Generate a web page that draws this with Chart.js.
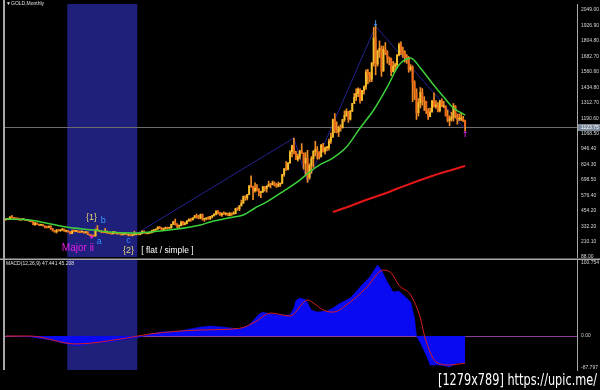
<!DOCTYPE html>
<html>
<head>
<meta charset="utf-8">
<title>GOLD, Monthly</title>
<script src="https://cdn.jsdelivr.net/npm/chart.js@4.4.1/dist/chart.umd.min.js"></script>
<style>
    html, body { margin: 0; padding: 0; background: #000; }
    #wrap { position: relative; width: 600px; height: 390px; background: #000; overflow: hidden; }
    #price-chart { position: absolute; left: 0; top: 0; }
    #macd-chart { position: absolute; left: 0; top: 258px; }
</style>
</head>
<body>
<div id="wrap">
    <canvas id="price-chart" width="600" height="260"></canvas>
    <canvas id="macd-chart" width="600" height="132"></canvas>
</div>
<script>
// --- Data: monthly gold bars, Nov 1995 .. Jul 2015 ---
const firstYear = 1995;
const firstMonth = 11;
const slotCount = 294; // bars + empty space to the right edge
const firstOpen = 383;

const closes = [
    387, 387,
    405, 400, 396, 392, 391, 382, 386, 387, 379, 379, 371, 369,
    345, 358, 348, 340, 345, 334, 326, 325, 332, 311, 296, 290,
    303, 297, 301, 310, 293, 296, 288, 273, 293, 292, 294, 288,
    287, 287, 280, 286, 268, 261, 255, 254, 299, 299, 292, 290,
    283, 293, 278, 275, 272, 288, 276, 278, 273, 264, 270, 273,
    266, 267, 258, 264, 267, 271, 266, 274, 293, 279, 275, 277,
    282, 297, 302, 309, 326, 318, 304, 312, 324, 317, 319, 347,
    368, 348, 334, 337, 364, 346, 354, 375, 388, 384, 398, 416,
    400, 396, 427, 387, 393, 395, 391, 408, 416, 428, 453, 438,
    422, 436, 429, 436, 417, 437, 429, 433, 473, 470, 495, 517,
    569, 556, 583, 654, 643, 614, 633, 624, 599, 604, 646, 632,
    650, 665, 662, 678, 659, 650, 665, 673, 743, 789, 783, 834,
    923, 972, 916, 864, 886, 930, 913, 833, 871, 718, 816, 869,
    927, 942, 917, 883, 976, 927, 955, 955, 1008, 1040, 1180, 1096,
    1082, 1117, 1113, 1180, 1212, 1244, 1181, 1247, 1307, 1357, 1386, 1421,
    1333, 1410, 1439, 1556, 1536, 1500, 1628, 1828, 1620, 1722, 1746, 1565,
    1738, 1711, 1669, 1664, 1560, 1604, 1614, 1692, 1773, 1719, 1711, 1675,
    1663, 1578, 1596, 1472, 1392, 1234, 1313, 1395, 1327, 1323, 1250, 1202,
    1240, 1326, 1284, 1295, 1250, 1327, 1282, 1287, 1210, 1172, 1183, 1199,
    1284, 1213, 1183, 1183, 1190, 1172, 1124
];
const highs = [
    389, 390,
    408, 418, 403, 397, 394, 392, 390, 390, 388, 384, 383, 373,
    369, 364, 358, 349, 350, 346, 335, 332, 334, 337, 316, 298,
    306, 305, 304, 316, 310, 300, 297, 289, 301, 303, 300, 296,
    292, 293, 290, 292, 289, 268, 264, 260, 311, 338, 300, 294,
    293, 316, 296, 282, 278, 292, 292, 281, 278, 274, 272, 275,
    273, 269, 269, 267, 293, 275, 272, 280, 296, 295, 284, 281,
    288, 301, 303, 310, 328, 331, 322, 318, 325, 325, 321, 349,
    372, 389, 354, 340, 373, 371, 365, 377, 391, 393, 400, 417,
    429, 418, 430, 429, 396, 398, 409, 411, 418, 432, 454, 456,
    443, 437, 447, 439, 436, 441, 437, 448, 475, 480, 497, 540,
    572, 575, 585, 655, 732, 652, 677, 664, 631, 610, 650, 648,
    655, 690, 673, 692, 685, 672, 683, 676, 745, 790, 845, 838,
    934, 976, 1033, 928, 905, 936, 988, 914, 917, 935, 829, 886,
    933, 1007, 965, 925, 982, 990, 960, 967, 1024, 1072, 1183, 1227,
    1162, 1128, 1139, 1180, 1249, 1265, 1245, 1253, 1308, 1387, 1424, 1432,
    1424, 1412, 1448, 1575, 1578, 1555, 1632, 1911, 1921, 1733, 1804, 1764,
    1763, 1791, 1726, 1677, 1668, 1641, 1628, 1695, 1787, 1796, 1755, 1725,
    1695, 1680, 1616, 1606, 1488, 1424, 1346, 1434, 1425, 1361, 1325, 1267,
    1270, 1332, 1392, 1331, 1315, 1332, 1345, 1324, 1287, 1255, 1208, 1238,
    1307, 1291, 1224, 1224, 1232, 1205, 1175
];
const lows = [
    382, 384,
    386, 395, 393, 389, 388, 380, 380, 385, 378, 377, 370, 366,
    343, 339, 346, 337, 338, 334, 318, 318, 320, 308, 294, 283,
    278, 293, 291, 300, 291, 286, 286, 271, 273, 288, 289, 283,
    282, 284, 277, 278, 267, 257, 252, 252, 254, 295, 289, 281,
    280, 282, 276, 273, 270, 271, 274, 269, 268, 263, 263, 267,
    262, 255, 256, 255, 263, 264, 263, 264, 271, 277, 271, 271,
    277, 280, 287, 300, 307, 313, 301, 300, 310, 310, 314, 318,
    346, 341, 321, 320, 335, 341, 342, 350, 370, 371, 380, 398,
    397, 391, 392, 381, 371, 382, 387, 386, 398, 413, 423, 428,
    418, 411, 426, 421, 415, 414, 418, 428, 431, 459, 456, 492,
    513, 538, 541, 582, 640, 543, 602, 611, 573, 560, 600, 611,
    603, 647, 636, 660, 652, 640, 645, 648, 671, 729, 776, 780,
    834, 883, 906, 862, 849, 866, 910, 786, 741, 681, 705, 752,
    800, 890, 865, 866, 882, 920, 905, 930, 937, 990, 1038, 1075,
    1073, 1044, 1088, 1113, 1164, 1203, 1157, 1175, 1242, 1306, 1330, 1361,
    1309, 1329, 1381, 1418, 1462, 1478, 1480, 1604, 1535, 1603, 1672, 1522,
    1562, 1695, 1627, 1613, 1527, 1555, 1564, 1589, 1685, 1694, 1672, 1636,
    1626, 1555, 1565, 1321, 1338, 1180, 1207, 1272, 1293, 1251, 1227, 1181,
    1202, 1239, 1277, 1268, 1240, 1240, 1281, 1273, 1206, 1161, 1131, 1167,
    1167, 1191, 1142, 1170, 1170, 1162, 1088
];

// moving averages at a few months
const greenMonths = ['1995-11', '1996-11', '1998-06', '1999-08', '2000-04', '2001-04', '2002-01', '2002-11',
    '2004-03', '2004-08', '2005-08', '2006-01', '2006-07', '2007-01', '2007-09', '2008-06', '2008-11',
    '2009-04', '2009-11', '2010-06', '2011-01', '2011-08', '2012-03', '2012-09', '2013-03', '2013-08',
    '2014-02', '2014-08', '2015-01', '2015-07'];
const greenValues = [390, 382, 326, 302, 286, 278, 286, 302,
    342, 366, 406, 421, 477, 525, 604, 699, 763,
    818, 874, 961, 1112, 1255, 1438, 1612, 1668, 1589,
    1470, 1358, 1271, 1215];
const redMonths = ['2009-11', '2010-08', '2011-04', '2012-01', '2012-09', '2014-02', '2015-07'];
const redValues = [445, 493, 541, 588, 636, 731, 810];

// Elliott wave zigzag
const waveMonths = ['2001-04', '2008-03', '2008-10', '2011-09', '2015-07'];
const waveValues = [255, 1033, 681, 1921, 1105];

// MACD(12,26,9): histogram and signal
const macdMonths = ['1995-11', '1996-11', '1997-10', '1998-06', '1998-12', '1999-08', '2000-04', '2001-01',
    '2001-08', '2002-01', '2002-06', '2003-04', '2004-03', '2004-08', '2005-01', '2005-11', '2006-04',
    '2006-09', '2006-11', '2007-03', '2007-08', '2008-01', '2008-03', '2008-04', '2008-06', '2008-09',
    '2008-12', '2009-03', '2009-08', '2009-11', '2010-03', '2010-08', '2011-01', '2011-06', '2011-10',
    '2011-12', '2012-03', '2012-06', '2012-09', '2013-03', '2013-05', '2013-06', '2013-08', '2013-11',
    '2014-01', '2014-06', '2014-11', '2015-03', '2015-07'];
const macdValues = [0.5, -1, -5.5, -11, -13.8, -9.7, -8.3, -4.1,
    -1.4, 2.3, 5.5, 6.9, 12.4, 13.8, 12.8, 9.7, 15.2,
    30, 32.7, 30.4, 29, 29, 38.6, 49, 52.4, 50,
    35.9, 33, 34.5, 38.6, 45.5, 52.4, 67.6, 81.4, 98,
    91, 74.5, 60.7, 62, 47, 24.8, 0, -9.7, -26.2,
    -40, -40, -42.8, -37.3, -37.3];
const signalMonths = ['1995-11', '1996-11', '1998-11', '2001-01', '2002-01', '2004-03', '2005-11', '2006-07',
    '2007-03', '2008-01', '2008-10', '2009-01', '2009-06', '2009-11', '2010-08', '2011-04', '2012-01',
    '2012-05', '2012-09', '2013-03', '2013-08', '2013-10', '2014-01', '2014-04', '2014-11', '2015-07'];
const signalValues = [0, 0, -11, -2.8, 2.8, 8.3, 10.6, 19.3,
    31.7, 27.6, 49.7, 45.5, 35.9, 33, 47, 66, 91,
    87, 70, 56.6, 24.8, 1.4, -22, -35.9, -40, -37.3];

// axis labels
const priceTicks = [2049.00, 1926.90, 1804.80, 1682.70, 1560.60, 1434.80, 1312.70, 1190.60,
    1068.50, 946.40, 824.30, 698.50, 576.40, 454.20, 332.20, 210.10, 88.00];
const macdTickAt = [100.754, 0, -44.2];
const macdTickText = ['100.754', '0.00', '-87.797'];
const bidPrice = 1123.75;

// shaded wave-{2} zone
const zoneFrom = '1998-07';
const zoneTo = '2001-06';

// --- Labels ---
const months = [];
for (let i = 0; i < slotCount; i++) {
    const n = firstMonth - 1 + i;
    months.push(`${firstYear + Math.floor(n / 12)}-${String(n % 12 + 1).padStart(2, '0')}`);
}
const opens = closes.map((c, i) => (i === 0 ? firstOpen : closes[i - 1]));
const pts = (xs, ys) => xs.map((m, i) => ({ x: m, y: ys[i] }));

// --- Styles ---
const FONT = 'Liberation Sans, Arial, sans-serif';
const axisGray = '#a8a8a8';
const tickColor = '#d6d6d6';
const zoneColor = '#1f1f7c';
const bullColor = '#f2c02c';
const bearColor = '#ee6c1c';
const wickColor = '#f08c24';

const waveTexts = [
    { text: '{1}', at: '1999-07', price: 398, color: '#e4d674', size: 9 },
    { text: 'b', at: '2000-01', price: 374, color: '#3a9cff', size: 9 },
    { text: 'a', at: '1999-11', price: 207, color: '#2f8cff', size: 9 },
    { text: 'c', at: '2001-02', price: 215, color: '#2f8cff', size: 9 },
    { text: 'Major ii', at: '1998-12', price: 159, color: '#e020e0', size: 10 },
    { text: '{2}', at: '2001-02', price: 140, color: '#e4d674', size: 9 },
    { text: '[ flat / simple ]', at: '2002-10', price: 140, color: '#ffffff', size: 8.5 }
];

function drawZone(ctx, x, area) {
    const half = (x.getPixelForValue(1) - x.getPixelForValue(0)) / 2;
    const left = x.getPixelForValue(months.indexOf(zoneFrom)) - half;
    const right = x.getPixelForValue(months.indexOf(zoneTo)) + half;
    ctx.fillStyle = zoneColor;
    ctx.fillRect(left, area.top, right - left, area.bottom - area.top);
}

// keep the plot area exactly where the layout padding puts it
function fixAxis(s) {
    s.width = 23;
    s.paddingTop = 0;
    s.paddingBottom = 0;
}

document.addEventListener('DOMContentLoaded', function () {
    // --- Price panel decorations ---
    const priceDecor = {
        id: 'priceDecor',
        beforeDatasetsDraw(chart) {
            const { ctx, chartArea: area, scales: { x, y } } = chart;
            ctx.save();
            drawZone(ctx, x, area);
            const by = Math.round(y.getPixelForValue(bidPrice)) + 0.5;
            ctx.strokeStyle = '#6c6c6c';
            ctx.lineWidth = 1;
            ctx.beginPath();
            ctx.moveTo(area.left, by);
            ctx.lineTo(area.right, by);
            ctx.stroke();
            ctx.restore();
        },
        afterDatasetsDraw(chart) {
            const { ctx, scales: { x, y } } = chart;
            ctx.save();
            ctx.textAlign = 'center';
            ctx.textBaseline = 'middle';
            waveTexts.forEach(t => {
                ctx.font = `${t.size}px ${FONT}`;
                ctx.fillStyle = t.color;
                ctx.fillText(t.text, x.getPixelForValue(months.indexOf(t.at)), y.getPixelForValue(t.price));
            });
            // wave markers
            ctx.font = 'bold 8px DejaVu Sans';
            ctx.fillStyle = '#4aa0ff';
            ctx.fillText('↓', x.getPixelForValue(months.indexOf('2011-09')), y.getPixelForValue(1935));
            ctx.fillStyle = '#d424e0';
            ctx.fillText('↑', x.getPixelForValue(months.indexOf('2015-07')), y.getPixelForValue(1060));
            ctx.beginPath();
            ctx.arc(x.getPixelForValue(months.indexOf('1999-07')), y.getPixelForValue(247), 1.6, 0, Math.PI * 2);
            ctx.fill();
            ctx.restore();
        },
        afterDraw(chart) {
            const { ctx, chartArea: area, scales: { y } } = chart;
            ctx.save();
            ctx.fillStyle = axisGray;
            ctx.fillRect(3, 0, 2, 259);
            ctx.fillRect(0, 258.5, 600, 1.5);
            // bid price box
            const by = Math.round(y.getPixelForValue(bidPrice)) + 0.5;
            ctx.fillStyle = '#7a8899';
            ctx.fillRect(area.right + 1, by - 3.5, 22, 7);
            ctx.fillStyle = '#ffffff';
            ctx.font = `5px ${FONT}`;
            ctx.textBaseline = 'middle';
            ctx.fillText(bidPrice.toFixed(2), area.right + 4, by);
            // header
            ctx.fillStyle = '#e0e0e0';
            ctx.fillText('▼', 6, 4);
            ctx.fillText('GOLD,Monthly', 11, 4);
            ctx.restore();
        }
    };

    new Chart(document.getElementById('price-chart'), {
        type: 'bar',
        data: {
            labels: months,
            datasets: [
                {
                    type: 'line', label: 'MA fast', data: pts(greenMonths, greenValues),
                    borderColor: '#3cd23c', borderWidth: 1.5, pointRadius: 0,
                    cubicInterpolationMode: 'monotone', order: 1
                },
                {
                    type: 'line', label: 'MA slow', data: pts(redMonths, redValues),
                    borderColor: '#e41616', borderWidth: 2, pointRadius: 0,
                    cubicInterpolationMode: 'monotone', order: 2
                },
                {
                    label: 'Bodies', data: closes.map((c, i) => [opens[i], c]),
                    backgroundColor: closes.map((c, i) => (c >= opens[i] ? bullColor : bearColor)),
                    barThickness: 1.3, minBarLength: 1, grouped: false, order: 3
                },
                {
                    label: 'Wicks', data: lows.map((l, i) => [l, highs[i]]),
                    backgroundColor: wickColor, barThickness: 1, grouped: false, order: 4
                },
                {
                    type: 'line', label: 'Waves', data: pts(waveMonths, waveValues),
                    borderColor: '#23238e', borderWidth: 1, pointRadius: 0, tension: 0, order: 5
                }
            ]
        },
        options: {
            responsive: false,
            animation: false,
            devicePixelRatio: 1,
            layout: { padding: { left: 5, top: 4, bottom: 3, right: 0 } },
            plugins: { legend: { display: false }, tooltip: { enabled: false } },
            scales: {
                x: { display: false, offset: true },
                y: {
                    position: 'right',
                    min: 88,
                    max: 2097,
                    grid: { display: false, drawTicks: false },
                    border: { display: true, color: axisGray, width: 1 },
                    ticks: {
                        color: tickColor, padding: 4, autoSkip: false,
                        font: { size: 5, family: FONT },
                        callback: v => v.toFixed(2)
                    },
                    afterBuildTicks: s => { s.ticks = priceTicks.map(v => ({ value: v })); },
                    afterFit: fixAxis
                }
            }
        },
        plugins: [priceDecor]
    });

    // --- MACD panel ---
    const macdDecor = {
        id: 'macdDecor',
        beforeDatasetsDraw(chart) {
            const { ctx, chartArea: area, scales: { x, y } } = chart;
            ctx.save();
            drawZone(ctx, x, area);
            const zy = Math.round(y.getPixelForValue(0)) + 0.5;
            ctx.strokeStyle = '#8a3c9c';
            ctx.lineWidth = 1;
            ctx.beginPath();
            ctx.moveTo(area.left, zy);
            ctx.lineTo(area.right, zy);
            ctx.stroke();
            ctx.restore();
        },
        afterDraw(chart) {
            const { ctx, chartArea: area } = chart;
            ctx.save();
            ctx.fillStyle = axisGray;
            ctx.fillRect(3, 0, 2, area.bottom);
            ctx.fillStyle = '#e0e0e0';
            ctx.font = `5px ${FONT}`;
            ctx.textBaseline = 'middle';
            ctx.fillText('MACD(12,26,9) 47.441 45.208', 6, 6);
            // watermark
            ctx.font = '15px DejaVu Sans';
            ctx.textBaseline = 'alphabetic';
            ctx.lineWidth = 3;
            ctx.strokeStyle = '#000000';
            ctx.strokeText('[1279x789] https://upic.me/', 438, 127, 159);
            ctx.fillStyle = '#ffffff';
            ctx.fillText('[1279x789] https://upic.me/', 438, 127, 159);
            ctx.restore();
        }
    };

    new Chart(document.getElementById('macd-chart'), {
        type: 'line',
        data: {
            labels: months,
            datasets: [
                {
                    label: 'Signal', data: pts(signalMonths, signalValues),
                    borderColor: '#d81c1c', borderWidth: 1, pointRadius: 0,
                    cubicInterpolationMode: 'monotone', order: 1
                },
                {
                    label: 'MACD', data: pts(macdMonths, macdValues),
                    borderColor: '#0a0af2', backgroundColor: '#0a0af2', borderWidth: 0.5,
                    fill: 'origin', pointRadius: 0, tension: 0, order: 2
                }
            ]
        },
        options: {
            responsive: false,
            animation: false,
            devicePixelRatio: 1,
            layout: { padding: { left: 5, top: 2, bottom: 20, right: 0 } },
            plugins: { legend: { display: false }, tooltip: { enabled: false } },
            scales: {
                x: { display: false, offset: true },
                y: {
                    position: 'right',
                    min: -46.9,
                    max: 104.9,
                    grid: { display: false, drawTicks: false },
                    border: { display: true, color: axisGray, width: 1 },
                    ticks: {
                        color: tickColor, padding: 4, autoSkip: false,
                        font: { size: 5, family: FONT },
                        callback: (v, i) => macdTickText[i]
                    },
                    afterBuildTicks: s => { s.ticks = macdTickAt.map(v => ({ value: v })); },
                    afterFit: fixAxis
                }
            }
        },
        plugins: [macdDecor]
    });
});
</script>
</body>
</html>
